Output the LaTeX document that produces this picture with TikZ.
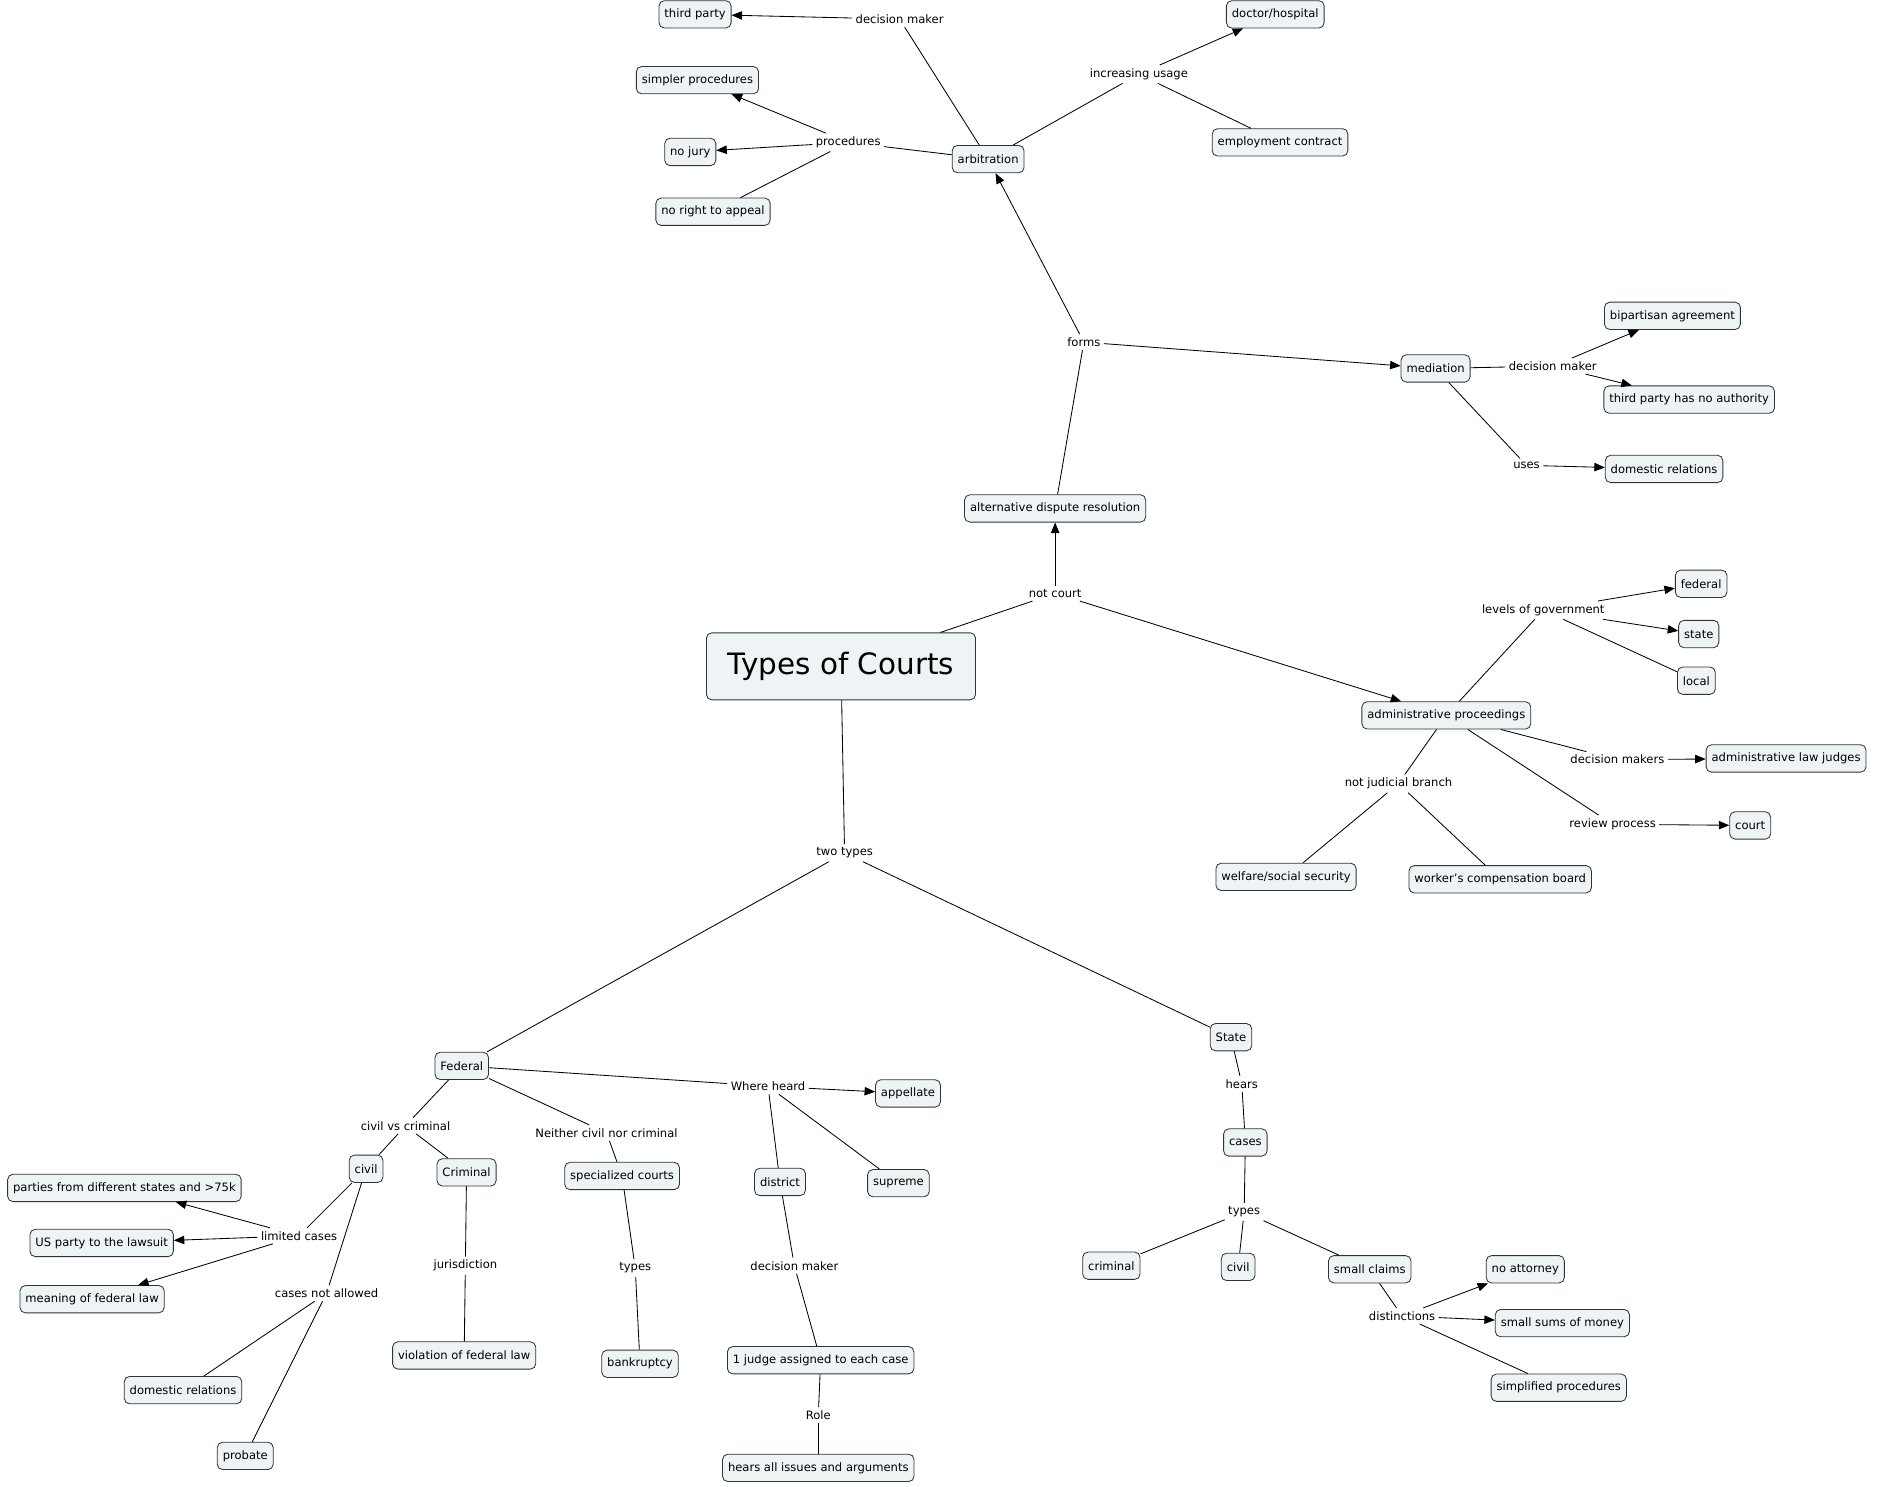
\documentclass[tikz,border=0pt]{standalone}
\usepackage{fontspec}
\setmainfont{DejaVu Sans}
\usetikzlibrary{arrows.meta,positioning}
\definecolor{boxfill}{HTML}{EEF3F5}
\definecolor{boxline}{HTML}{333333}
\tikzset{
  cbox/.style={draw=boxline, fill=boxfill, rounded corners=2.5pt, font=\fontsize{5.5}{6.5}\selectfont, inner sep=2.6pt, minimum height=13pt},
  lbl/.style={font=\fontsize{5.5}{6.5}\selectfont, inner sep=1.5pt, fill=white},
  ln/.style={draw, thin},
  arr/.style={draw, thin, -{Triangle[length=5pt,width=4pt]}}
}
\begin{document}
\begin{tikzpicture}[x=0.02cm, y=-0.02cm]
\useasboundingbox (0,0) rectangle (1569,1243);
% concept boxes
\node[cbox, font=\fontsize{14}{16}\selectfont, minimum width=4.5cm, minimum height=1.12cm] (types) at (703,557) {Types of Courts};
\node[cbox] (adr) at (882,425) {alternative dispute resolution};
\node[cbox] (arb) at (826,133) {arbitration};
\node[cbox] (tparty) at (581,12) {third party};
\node[cbox] (simpler) at (583,67) {simpler procedures};
\node[cbox] (nojury) at (577,127) {no jury};
\node[cbox] (noappeal) at (596,177) {no right to appeal};
\node[cbox] (doctor) at (1066,12) {doctor/hospital};
\node[cbox] (employ) at (1070,119) {employment contract};
\node[cbox] (med) at (1200,308) {mediation};
\node[cbox] (bipart) at (1398,264) {bipartisan agreement};
\node[cbox] (noauth) at (1412,334) {third party has no authority};
\node[cbox] (domrelA) at (1391,392) {domestic relations};
\node[cbox] (federal) at (1422,488) {federal};
\node[cbox] (state) at (1420,530) {state};
\node[cbox] (local) at (1418,569) {local};
\node[cbox] (admin) at (1209,598) {administrative proceedings};
\node[cbox] (alj) at (1493,634) {administrative law judges};
\node[cbox] (court) at (1463,690) {court};
\node[cbox] (welfare) at (1075,733) {welfare/social security};
\node[cbox] (workers) at (1254,735) {worker's compensation board};
\node[cbox] (fedc) at (386,891) {Federal};
\node[cbox] (statec) at (1029,867) {State};
\node[cbox] (appel) at (759,914) {appellate};
\node[cbox] (supreme) at (751,989) {supreme};
\node[cbox] (district) at (652,988) {district};
\node[cbox] (special) at (520,983) {specialized courts};
\node[cbox] (civil) at (306,977) {civil};
\node[cbox] (crim) at (390,980) {Criminal};
\node[cbox] (parties) at (104,993) {parties from different states and >75k};
\node[cbox] (usparty) at (85,1039) {US party to the lawsuit};
\node[cbox] (meaning) at (77,1086) {meaning of federal law};
\node[cbox] (domrelB) at (153,1162) {domestic relations};
\node[cbox] (probate) at (205,1217) {probate};
\node[cbox] (violation) at (388,1133) {violation of federal law};
\node[cbox] (bankr) at (535,1140) {bankruptcy};
\node[cbox] (judge) at (686,1137) {1 judge assigned to each case};
\node[cbox] (hearsall) at (684,1227) {hears all issues and arguments};
\node[cbox] (cases) at (1041,955) {cases};
\node[cbox] (crimB) at (929,1058) {criminal};
\node[cbox] (civilB) at (1035,1059) {civil};
\node[cbox] (small) at (1145,1061) {small claims};
\node[cbox] (noatt) at (1275,1061) {no attorney};
\node[cbox] (sums) at (1306,1106) {small sums of money};
\node[cbox] (simplified) at (1303,1160) {simplified procedures};

% link labels
\node[lbl] (notcourt) at (882,496) {not court};
\node[lbl] (forms) at (906,286) {forms};
\node[lbl] (dmA) at (752,16) {decision maker};
\node[lbl] (proc) at (709,119) {procedures};
\node[lbl] (incr) at (952,62) {increasing usage};
\node[lbl] (dmB) at (1298,306) {decision maker};
\node[lbl] (uses) at (1276,389) {uses};
\node[lbl] (levels) at (1290,510) {levels of government};
\node[lbl] (dms) at (1352,635) {decision makers};
\node[lbl] (review) at (1348,689) {review process};
\node[lbl] (notjud) at (1169,655) {not judicial branch};
\node[lbl] (twotypes) at (706,713) {two types};
\node[lbl] (where) at (642,908) {Where heard};
\node[lbl] (cvc) at (339,941) {civil vs criminal};
\node[lbl] (neither) at (507,947) {Neither civil nor criminal};
\node[lbl] (limited) at (250,1033) {limited cases};
\node[lbl] (notallow) at (273,1081) {cases not allowed};
\node[lbl] (juris) at (389,1058) {jurisdiction};
\node[lbl] (typesA) at (531,1060) {types};
\node[lbl] (dmC) at (664,1058) {decision maker};
\node[lbl] (role) at (684,1183) {Role};
\node[lbl] (hears) at (1038,906) {hears};
\node[lbl] (typesB) at (1040,1013) {types};
\node[lbl] (distinct) at (1172,1100) {distinctions};

% connectors
\draw[ln] (types) -- (notcourt);
\draw[arr] (notcourt) -- (adr);
\draw[arr] (notcourt) -- (admin);
\draw[ln] (adr) -- (forms);
\draw[arr] (forms) -- (arb);
\draw[arr] (forms) -- (med);
\draw[ln] (arb) -- (dmA);
\draw[arr] (dmA) -- (tparty);
\draw[ln] (arb) -- (proc);
\draw[arr] (proc) -- (simpler);
\draw[arr] (proc) -- (nojury);
\draw[ln] (proc) -- (noappeal);
\draw[ln] (arb) -- (incr);
\draw[arr] (incr) -- (doctor);
\draw[ln] (incr) -- (employ);
\draw[ln] (med) -- (dmB);
\draw[arr] (dmB) -- (bipart);
\draw[arr] (dmB) -- (noauth);
\draw[ln] (med) -- (uses);
\draw[arr] (uses) -- (domrelA);
\draw[ln] (admin) -- (levels);
\draw[arr] (levels) -- (federal);
\draw[arr] (levels) -- (state);
\draw[ln] (levels) -- (local);
\draw[ln] (admin) -- (dms);
\draw[arr] (dms) -- (alj);
\draw[ln] (admin) -- (review);
\draw[arr] (review) -- (court);
\draw[ln] (admin) -- (notjud);
\draw[ln] (notjud) -- (welfare);
\draw[ln] (notjud) -- (workers);
\draw[ln] (types) -- (twotypes);
\draw[ln] (twotypes) -- (fedc);
\draw[ln] (twotypes) -- (statec);
\draw[ln] (fedc) -- (where);
\draw[arr] (where) -- (appel);
\draw[ln] (where) -- (supreme);
\draw[ln] (where) -- (district);
\draw[ln] (fedc) -- (cvc);
\draw[ln] (cvc) -- (civil);
\draw[ln] (cvc) -- (crim);
\draw[ln] (fedc) -- (neither);
\draw[ln] (neither) -- (special);
\draw[ln] (civil) -- (limited);
\draw[arr] (limited) -- (parties);
\draw[arr] (limited) -- (usparty);
\draw[arr] (limited) -- (meaning);
\draw[ln] (civil) -- (notallow);
\draw[ln] (notallow) -- (domrelB);
\draw[ln] (notallow) -- (probate);
\draw[ln] (crim) -- (juris);
\draw[ln] (juris) -- (violation);
\draw[ln] (special) -- (typesA);
\draw[ln] (typesA) -- (bankr);
\draw[ln] (district) -- (dmC);
\draw[ln] (dmC) -- (judge);
\draw[ln] (judge) -- (role);
\draw[ln] (role) -- (hearsall);
\draw[ln] (statec) -- (hears);
\draw[ln] (hears) -- (cases);
\draw[ln] (cases) -- (typesB);
\draw[ln] (typesB) -- (crimB);
\draw[ln] (typesB) -- (civilB);
\draw[ln] (typesB) -- (small);
\draw[ln] (small) -- (distinct);
\draw[arr] (distinct) -- (noatt);
\draw[arr] (distinct) -- (sums);
\draw[ln] (distinct) -- (simplified);
\end{tikzpicture}
\end{document}
